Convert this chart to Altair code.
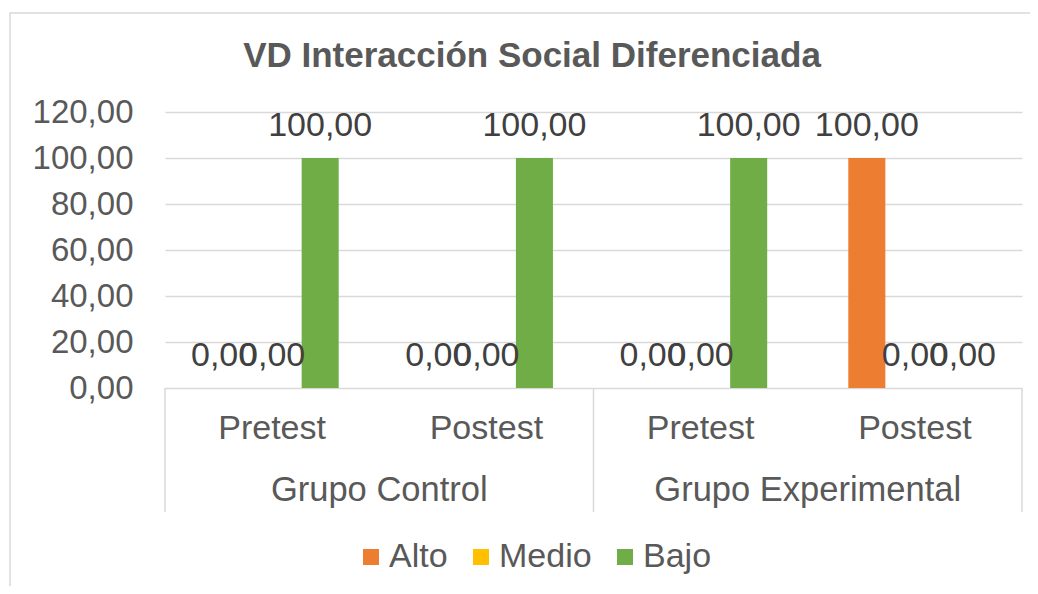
import altair as alt
import pandas as pd

# ---- data ----
grupos = ["Grupo Control", "Grupo Control", "Grupo Experimental", "Grupo Experimental"]
tests = ["Pretest", "Postest", "Pretest", "Postest"]
niveles = ["Alto", "Medio", "Bajo"]
alto = [0.0, 0.0, 0.0, 100.0]
medio = [0.0, 0.0, 0.0, 0.0]
bajo = [100.0, 100.0, 100.0, 0.0]
colores = ["#ED7D31", "#FFC000", "#70AD47"]
titulo = "VD Interacción Social Diferenciada"
y_ticks = [0, 20, 40, 60, 80, 100, 120]

cats = [g + "|" + t for g, t in zip(grupos, tests)]
rows = []
for i, c in enumerate(cats):
    for n, vals in zip(niveles, [alto, medio, bajo]):
        v = vals[i]
        rows.append({"cat": c, "nivel": n, "valor": v,
                     "etiqueta": f"{v:.2f}".replace(".", ",")})
df = pd.DataFrame(rows)

FONT = "Liberation Sans"
TXT = "#595959"
GRID = "#D9D9D9"
W, H = 857, 276

xscale = alt.Scale(domain=cats, paddingInner=0, paddingOuter=0)
xoff = alt.XOffset("nivel:N", scale=alt.Scale(domain=niveles, paddingInner=0.229, paddingOuter=0.844))
yscale = alt.Scale(domain=[0, 120], nice=False)

yaxis = alt.Axis(values=y_ticks, labelExpr="replace(format(datum.value, '.2f'), '.', ',')",
                 labelFontSize=33, labelColor=TXT, labelFont=FONT, labelPadding=32,
                 ticks=False, domain=False, grid=True, gridColor=GRID, gridWidth=1.5)

base = alt.Chart(df)

bars = base.mark_bar().encode(
    x=alt.X("cat:N", scale=xscale, axis=None, sort=cats),
    xOffset=xoff,
    y=alt.Y("valor:Q", scale=yscale, title=None, axis=yaxis),
    color=alt.Color("nivel:N", scale=alt.Scale(domain=niveles, range=colores),
                    legend=alt.Legend(title=None, orient="none", direction="horizontal",
                                      legendX=189, legendY=428, symbolType="square",
                                      symbolSize=256, symbolStrokeWidth=0, labelFontSize=34,
                                      labelColor=TXT, labelFont=FONT, labelOffset=1,
                                      columnPadding=16, padding=0)),
)

labels = base.mark_text(fontSize=34, font=FONT, color="#404040", baseline="middle", dy=-32).encode(
    x=alt.X("cat:N", scale=xscale, sort=cats, axis=None),
    xOffset=xoff,
    y=alt.Y("valor:Q", scale=yscale, title=None, axis=yaxis),
    text="etiqueta:N",
)

sub_df = pd.DataFrame({"cat": cats, "test": tests})
sub = alt.Chart(sub_df).mark_text(fontSize=34, font=FONT, color=TXT, baseline="middle").encode(
    x=alt.X("cat:N", scale=xscale, sort=cats, axis=None),
    y=alt.value(316.5),
    text="test:N",
)

grp_df = pd.DataFrame({"cat": [cats[0], cats[2]], "grupo": [grupos[0], grupos[2]]})
grp = alt.Chart(grp_df).mark_text(fontSize=34.5, font=FONT, color=TXT, baseline="middle").encode(
    x=alt.X("cat:N", scale=xscale, sort=cats, bandPosition=1, axis=None),
    y=alt.value(379),
    text="grupo:N",
)

sep_start = alt.Chart(pd.DataFrame({"cat": [cats[0], cats[2]]})).mark_rule(color=GRID, strokeWidth=1.5).encode(
    x=alt.X("cat:N", scale=xscale, sort=cats, bandPosition=0, axis=None),
    y=alt.value(H), y2=alt.value(400),
)
sep_end = alt.Chart(pd.DataFrame({"cat": [cats[3]]})).mark_rule(color=GRID, strokeWidth=1.5).encode(
    x=alt.X("cat:N", scale=xscale, sort=cats, bandPosition=1, axis=None),
    y=alt.value(H), y2=alt.value(400),
)

border = alt.Chart(pd.DataFrame({"a": [0]})).mark_rect(fillOpacity=0, stroke=GRID, strokeWidth=1.5).encode(
    x=alt.value(-155), x2=alt.value(900), y=alt.value(-99), y2=alt.value(500),
)

title_df = pd.DataFrame({"t": [titulo]})
title = alt.Chart(title_df).mark_text(fontSize=35, font=FONT, fontWeight="bold", color=TXT,
                                      baseline="middle", align="center").encode(
    x=alt.value(367), y=alt.value(-56), text="t:N",
)

chart = alt.layer(border, bars, labels, sub, grp, sep_start, sep_end, title).properties(
    width=W, height=H,
    autosize=alt.AutoSizeParams(type="none"),
    padding={"left": 157, "top": 104, "right": 8, "bottom": 198},
).configure(font=FONT).configure_view(stroke=None)

chart.save("out.html", embed_options={"renderer": "svg", "actions": False})
